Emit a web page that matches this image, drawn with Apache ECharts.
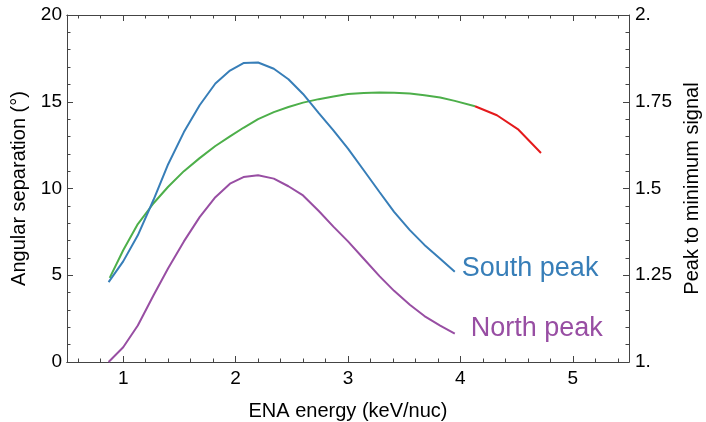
<!DOCTYPE html>
<html>
<head>
<meta charset="utf-8">
<script src="https://cdn.jsdelivr.net/npm/echarts@6/dist/echarts.min.js"></script>
<style>
  html, body { margin: 0; padding: 0; background: #fff; }
  #chart { width: 706px; height: 422px; }
</style>
</head>
<body>
<div id="chart"></div>
<script>
// energies (keV/nuc) for the two peak curves
const energy = [0.87, 1.0, 1.13, 1.27, 1.4, 1.54, 1.68, 1.82, 1.95, 2.07, 2.2, 2.34, 2.47, 2.6, 2.74, 2.87, 3.0, 3.14, 3.28, 3.41, 3.55, 3.68, 3.82, 3.95]
const southPeak = [4.6, 5.8, 7.3, 9.35, 11.4, 13.25, 14.8, 16.05, 16.8, 17.23, 17.26, 16.9, 16.3, 15.45, 14.35, 13.35, 12.3, 11.05, 9.8, 8.65, 7.6, 6.75, 5.95, 5.2]
const northPeak = [0, 0.85, 2.1, 3.85, 5.4, 6.95, 8.35, 9.5, 10.28, 10.66, 10.76, 10.57, 10.13, 9.6, 8.7, 7.8, 6.95, 5.95, 4.95, 4.1, 3.3, 2.65, 2.1, 1.64]

// peak to minimum signal (right axis)
const ratioEnergy = [0.88, 1.0, 1.13, 1.27, 1.4, 1.54, 1.68, 1.82, 1.95, 2.07, 2.2, 2.34, 2.47, 2.6, 2.74, 2.87, 3.0, 3.14, 3.28, 3.41, 3.55, 3.68, 3.82, 3.95, 4.13]
const peakRatio = [1.2425, 1.322, 1.3975, 1.4575, 1.505, 1.55, 1.5875, 1.6225, 1.65, 1.675, 1.70, 1.72, 1.735, 1.7475, 1.7575, 1.765, 1.7725, 1.775, 1.7765, 1.776, 1.7735, 1.769, 1.7625, 1.7525, 1.737]
const redEnergy = [4.13, 4.325, 4.517, 4.717]
const redRatio = [1.737, 1.711, 1.6695, 1.6025]

// ticks
const xMajorTicks = [1, 2, 3, 4, 5]
const xMinorTicks = [0.6, 0.8, 1.2, 1.4, 1.6, 1.8, 2.2, 2.4, 2.6, 2.8, 3.2, 3.4, 3.6, 3.8, 4.2, 4.4, 4.6, 4.8, 5.2, 5.4]
const rightTickValues = [1, 1.25, 1.5, 1.75, 2]
const rightTickLabels = ['1.', '1.25', '1.5', '1.75', '2.']

const font = 'Liberation Sans, Arial, sans-serif'
const frameColor = '#444'

function pairs(xs, ys) {
  return xs.map((x, i) => [x, ys[i]])
}

function xFrame(position, ticks, len, extra) {
  return Object.assign({
    type: 'value',
    position: position,
    min: 0.5,
    max: 5.5,
    axisLine: { show: true, onZero: false, lineStyle: { color: frameColor, width: 1 } },
    axisTick: { show: true, inside: true, length: len, customValues: ticks, lineStyle: { color: frameColor } },
    axisLabel: { show: false },
    splitLine: { show: false }
  }, extra || {})
}

const chart = echarts.init(document.getElementById('chart'))

const option = {
  animation: false,
  textStyle: { fontFamily: font },
  grid: { left: 67, right: 77, top: 15, bottom: 60, outerBoundsMode: 'none', containLabel: false },
  xAxis: [
    xFrame('bottom', xMajorTicks, 6, {
      name: 'ENA energy (keV/nuc)',
      nameLocation: 'middle',
      nameGap: 39,
      nameTextStyle: { fontSize: 20, color: '#000', fontFamily: font },
      axisLabel: { show: true, customValues: xMajorTicks, margin: 7, fontSize: 19, color: '#000', fontFamily: font }
    }),
    xFrame('bottom', xMinorTicks, 3.5),
    xFrame('top', xMajorTicks, 6),
    xFrame('top', xMinorTicks, 3.5)
  ],
  yAxis: [
    {
      type: 'value',
      position: 'left',
      min: 0,
      max: 20,
      interval: 5,
      name: 'Angular separation (°)',
      nameLocation: 'middle',
      nameGap: 32,
      nameTextStyle: { fontSize: 20, color: '#000', fontFamily: font },
      axisLine: { show: true, lineStyle: { color: frameColor } },
      axisTick: { show: true, inside: true, length: 6, lineStyle: { color: frameColor } },
      minorTick: { show: true, splitNumber: 5, length: 3.5, lineStyle: { color: frameColor } },
      axisLabel: { margin: 5, fontSize: 19, color: '#000', fontFamily: font },
      splitLine: { show: false }
    },
    {
      type: 'value',
      position: 'right',
      min: 1,
      max: 2,
      interval: 0.25,
      name: 'Peak to minimum signal',
      nameLocation: 'middle',
      nameRotate: 90,
      nameGap: 53,
      nameTextStyle: { fontSize: 20, color: '#000', fontFamily: font },
      axisLine: { show: true, lineStyle: { color: frameColor } },
      axisTick: { show: true, inside: true, length: 6, lineStyle: { color: frameColor } },
      minorTick: { show: true, splitNumber: 5, length: 3.5, lineStyle: { color: frameColor } },
      axisLabel: {
        margin: 6, fontSize: 19, color: '#000', fontFamily: font,
        formatter: function(v) {
          const i = rightTickValues.findIndex(t => Math.abs(t - v) < 1e-9)
          return i >= 0 ? rightTickLabels[i] : ''
        }
      },
      splitLine: { show: false }
    }
  ],
  series: [
    {
      name: 'Peak to minimum signal',
      type: 'line',
      xAxisIndex: 0,
      yAxisIndex: 1,
      data: pairs(ratioEnergy, peakRatio),
      showSymbol: false,
      lineStyle: { color: '#4daf4a', width: 2 }
    },
    {
      name: 'Extrapolated',
      type: 'line',
      xAxisIndex: 0,
      yAxisIndex: 1,
      data: pairs(redEnergy, redRatio),
      showSymbol: false,
      lineStyle: { color: '#e41a1c', width: 2 }
    },
    {
      name: 'South peak',
      type: 'line',
      xAxisIndex: 0,
      yAxisIndex: 0,
      data: pairs(energy, southPeak),
      showSymbol: false,
      lineStyle: { color: '#377eb8', width: 2 },
      endLabel: {
        show: true,
        formatter: 'South peak',
        color: '#377eb8',
        fontSize: 27,
        fontFamily: font,
        distance: 7,
        offset: [0, -3]
      }
    },
    {
      name: 'North peak',
      type: 'line',
      xAxisIndex: 0,
      yAxisIndex: 0,
      data: pairs(energy, northPeak),
      showSymbol: false,
      lineStyle: { color: '#984ea3', width: 2 },
      endLabel: {
        show: true,
        formatter: 'North peak',
        color: '#984ea3',
        fontSize: 27,
        fontFamily: font,
        distance: 16,
        offset: [0, -5]
      }
    }
  ]
}

chart.setOption(option)
</script>
</body>
</html>
